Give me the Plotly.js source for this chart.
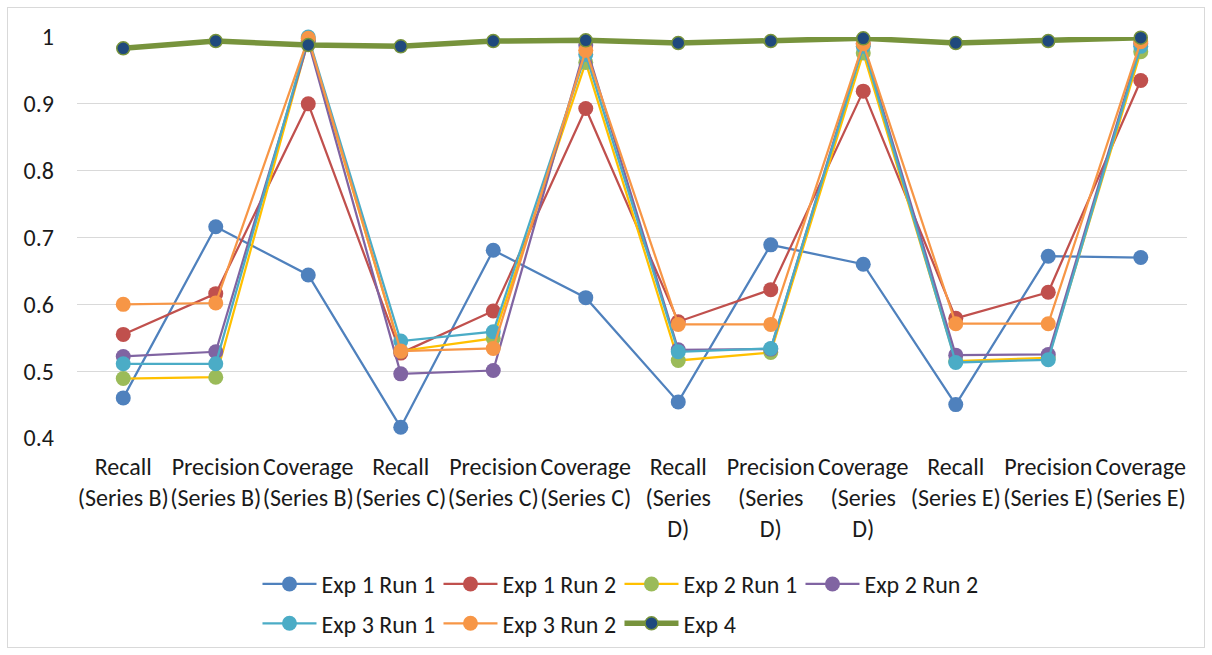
<!DOCTYPE html>
<html>
<head>
<meta charset="utf-8">
<script src="https://cdn.plot.ly/plotly-3.0.1.min.js"></script>
<style>
  html, body { margin: 0; padding: 0; background: #fff; }
  #wrap { position: relative; width: 1212px; height: 655px; }
  #chart { width: 1212px; height: 655px; }
  #frame { position: absolute; left: 7px; top: 7px; width: 1196px; height: 639px;
           border: 1px solid #d9d9d9; pointer-events: none; }
</style>
</head>
<body>
<div id="wrap">
  <div id="chart"></div>
  <div id="frame"></div>
</div>
<script>
// Category labels along the x axis (metric per series)
const categories = [
  "Recall<br>(Series B)", "Precision<br>(Series B)", "Coverage<br>(Series B)",
  "Recall<br>(Series C)", "Precision<br>(Series C)", "Coverage<br>(Series C)",
  "Recall<br>(Series<br>D)", "Precision<br>(Series<br>D)", "Coverage<br>(Series<br>D)",
  "Recall<br>(Series E)", "Precision<br>(Series E)", "Coverage<br>(Series E)"
];

// Scores per experiment run
const exp1Run1 = [0.460, 0.716, 0.644, 0.416, 0.681, 0.610, 0.454, 0.689, 0.660, 0.450, 0.672, 0.670];
const exp1Run2 = [0.555, 0.616, 0.900, 0.527, 0.590, 0.893, 0.574, 0.622, 0.919, 0.579, 0.618, 0.935];
const exp2Run1 = [0.489, 0.491, 0.995, 0.530, 0.549, 0.962, 0.516, 0.528, 0.976, 0.515, 0.520, 0.978];
const exp2Run2 = [0.522, 0.529, 0.993, 0.496, 0.501, 0.988, 0.532, 0.533, 0.990, 0.524, 0.525, 0.990];
const exp3Run1 = [0.511, 0.511, 1.000, 0.545, 0.559, 0.974, 0.529, 0.534, 0.986, 0.513, 0.517, 0.986];
const exp3Run2 = [0.600, 0.602, 0.998, 0.530, 0.534, 0.980, 0.570, 0.570, 0.990, 0.571, 0.571, 0.993];
const exp4     = [0.983, 0.994, 0.988, 0.986, 0.994, 0.995, 0.991, 0.994, 0.998, 0.991, 0.994, 0.999];

const yTicks = [0.4, 0.5, 0.6, 0.7, 0.8, 0.9, 1];

const FONT = "Carlito, Calibri, 'Liberation Sans Narrow', 'Open Sans', sans-serif";
const TEXT = "#1a1a1a";

function run(name, y, lineColor, markerColor, legend) {
  return {
    type: "scatter", mode: "lines+markers", name: name,
    x: categories, y: y, legend: legend,
    cliponaxis: false,
    line: { color: lineColor, width: 2.25 },
    marker: { color: markerColor, size: 15, line: { width: 0 } }
  };
}

const traces = [
  run("Exp 1 Run 1", exp1Run1, "#4F81BD", "#4F81BD", "legend"),
  run("Exp 1 Run 2", exp1Run2, "#C0504D", "#C0504D", "legend"),
  run("Exp 2 Run 1", exp2Run1, "#FFC000", "#9BBB59", "legend"),
  run("Exp 2 Run 2", exp2Run2, "#8064A2", "#8064A2", "legend"),
  run("Exp 3 Run 1", exp3Run1, "#4BACC6", "#4BACC6", "legend2"),
  run("Exp 3 Run 2", exp3Run2, "#F79646", "#F79646", "legend2"),
  {
    type: "scatter", mode: "lines+markers", name: "Exp 4",
    x: categories, y: exp4, legend: "legend2", cliponaxis: false,
    line: { color: "#77933C", width: 5.5 },
    marker: { color: "#1F497D", size: 13, line: { color: "#77933C", width: 1.5 } }
  }
];

const legendCommon = {
  orientation: "h", xanchor: "left", yanchor: "middle",
  font: { family: FONT, size: 24, color: TEXT },
  bgcolor: "rgba(0,0,0,0)", borderwidth: 0,
  itemwidth: 54, entrywidthmode: "pixels", entrywidth: 112, tracegroupgap: 0
};

const layout = {
  width: 1212, height: 655,
  margin: { l: 77, r: 25, t: 37, b: 217, autoexpand: false },
  paper_bgcolor: "#ffffff", plot_bgcolor: "#ffffff",
  font: { family: FONT, size: 24, color: TEXT },
  showlegend: true,
  xaxis: {
    type: "category", range: [-0.5, 11.5], automargin: false,
    showgrid: false, zeroline: false, showline: false,
    ticks: "", tickangle: 0, ticklabelstandoff: 12,
    tickfont: { family: FONT, size: 24, color: TEXT }
  },
  yaxis: {
    range: [0.4, 1.0], tickvals: yTicks, ticktext: yTicks.map(String), automargin: false,
    showgrid: true, gridcolor: "#d9d9d9", gridwidth: 1.3,
    zeroline: false, showline: false, ticks: "", ticklabelstandoff: 22,
    tickfont: { family: FONT, size: 24, color: TEXT }
  },
  legend: Object.assign({}, legendCommon, { x: 0.1626, y: -0.365 }),
  legend2: Object.assign({}, legendCommon, { x: 0.1626, y: -0.463 })
};

Plotly.newPlot("chart", traces, layout, { displayModeBar: false, staticPlot: true });
</script>
</body>
</html>
